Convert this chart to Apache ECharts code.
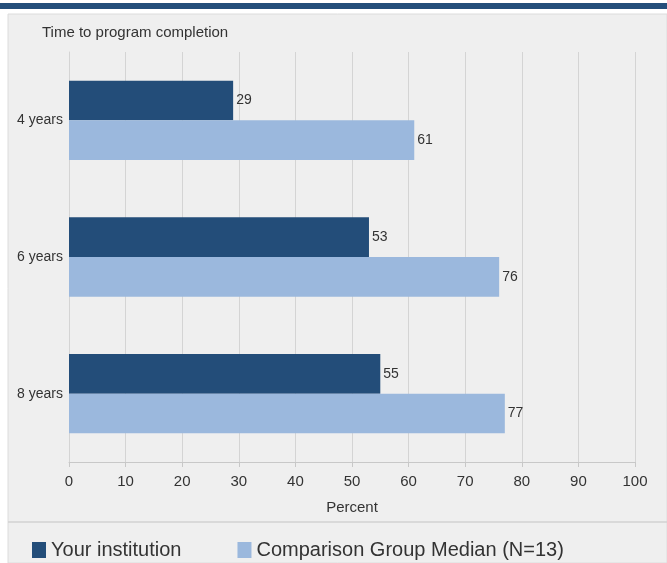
<!DOCTYPE html>
<html>
<head>
<meta charset="utf-8">
<script src="https://cdn.jsdelivr.net/npm/echarts@6/dist/echarts.min.js"></script>
<style>
  html, body { margin: 0; padding: 0; background: #fff; }
  #chart { width: 667px; height: 563px; }
</style>
</head>
<body>
<div id="chart"></div>
<script>
const categories = ['4 years', '6 years', '8 years']
const institution = [29, 53, 55]
const comparison = [61, 76, 77]
const seriesNames = ['Your institution', 'Comparison Group Median (N=13)']

const colors = {
  dark: '#234d79',
  light: '#9bb8dd',
  panel: '#efefef',
  text: '#333'
}

const font = 'Liberation Sans, Arial, sans-serif'

const chart = echarts.init(document.getElementById('chart'))

const barLabel = {
  show: true,
  position: 'right',
  distance: 3,
  color: colors.text,
  fontFamily: font,
  fontSize: 14
}

chart.setOption({
  animation: false,
  backgroundColor: '#fff',
  graphic: [
    { type: 'rect', z: -10, shape: { x: 0, y: 3, width: 667, height: 6 }, style: { fill: '#244e7a' } },
    { type: 'rect', z: -10, shape: { x: 8, y: 14, width: 659, height: 549 }, style: { fill: colors.panel, stroke: '#dcdcdc', lineWidth: 1 } },
    { type: 'line', z: -9, shape: { x1: 8, y1: 522, x2: 667, y2: 522 }, style: { stroke: '#d2d2d2', lineWidth: 1.5 } },
    { type: 'text', left: 42, top: 25, style: { text: 'Time to program completion', font: '15px ' + font, fill: colors.text } }
  ],
  legend: {
    left: 27,
    top: 535,
    itemWidth: 14,
    itemHeight: 16,
    itemGap: 56,
    icon: 'rect',
    textStyle: { fontFamily: font, fontSize: 20, color: colors.text },
    data: seriesNames
  },
  grid: { left: 69, right: 32, top: 52, bottom: 101, containLabel: false },
  xAxis: {
    type: 'value',
    min: 0,
    max: 100,
    interval: 10,
    name: 'Percent',
    nameLocation: 'middle',
    nameGap: 38,
    nameTextStyle: { fontFamily: font, fontSize: 15, color: colors.text },
    axisLine: { show: true, lineStyle: { color: '#c8c8c8' } },
    axisTick: { show: true, length: 5, lineStyle: { color: '#c8c8c8' } },
    axisLabel: { fontFamily: font, fontSize: 15, color: colors.text, margin: 12 },
    splitLine: { show: true, lineStyle: { color: '#d4d4d4' } }
  },
  yAxis: {
    type: 'category',
    inverse: true,
    data: categories,
    axisLine: { show: true, lineStyle: { color: '#d4d4d4' } },
    axisTick: { show: false },
    axisLabel: { fontFamily: font, fontSize: 14, color: colors.text, margin: 6 },
    splitLine: { show: false }
  },
  series: [
    {
      name: seriesNames[0],
      type: 'bar',
      data: institution,
      barGap: '0%',
      barCategoryGap: '42%',
      itemStyle: { color: colors.dark },
      label: barLabel
    },
    {
      name: seriesNames[1],
      type: 'bar',
      data: comparison,
      itemStyle: { color: colors.light },
      label: barLabel
    }
  ]
})
</script>
</body>
</html>
